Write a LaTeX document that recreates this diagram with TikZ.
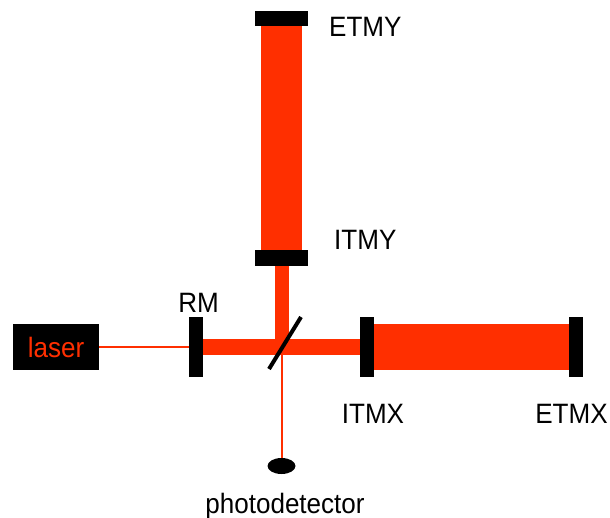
\documentclass[tikz,border=0pt]{standalone}
\usepackage{fontspec}
\usetikzlibrary{shapes.geometric}
\setmainfont[FakeStretch=0.93]{Liberation Sans}
\definecolor{beamred}{HTML}{FF2F00}
\def\labelsize{\fontsize{28}{28}\selectfont}
\tikzset{
  mirror/.style={fill=black, inner sep=0pt, minimum width=#1},
  beam/.style={beamred, line width=#1},
  lab/.style={black, inner sep=0pt, font=\labelsize}
}

\begin{document}
\begin{tikzpicture}[x=1pt, y=-1pt]
  \useasboundingbox (0,0) rectangle (610,518);

  % mirrors
  \node [mirror=53pt, minimum height=15pt] (etmy) at (281.5, 18.5){};
  \node [mirror=53pt, minimum height=16pt] (itmy) at (281.5, 258){};
  \node [mirror=14pt, minimum height=60pt] (rm) at (196, 347){};
  \node [mirror=14pt, minimum height=60pt] (itmx) at (367, 347){};
  \node [mirror=14pt, minimum height=60pt] (etmx) at (576, 347){};
  \node [fill=black, inner sep=0pt, minimum width=86pt, minimum height=46pt, text=beamred, font=\labelsize] (laser) at (56, 347){laser};
  \node [fill=black, ellipse, inner sep=0pt, minimum width=28pt, minimum height=16pt] (pd) at (281.5, 466){};
  \coordinate (bs) at (281.5, 347);
  \coordinate (bsa) at (301, 317);
  \coordinate (bsb) at (269, 369);

  % arm cavities
  \draw [beam=41pt] (itmy)--(etmy);
  \draw [beam=46pt] (itmx)--(etmx);

  % beams
  \draw [beam=14pt] (itmy)--(bs);
  \draw [beam=16pt] (rm)--(itmx);
  \draw [beam=2pt] (laser)--(rm);
  \draw [beam=2pt] (bs)--(pd);

  % beamsplitter
  \draw [black, line width=4pt] (bsa)--(bsb);

  \node [lab, anchor=base west] (etmylabel) at (329, 37){ETMY};
  \node [lab, anchor=base west] (itmylabel) at (334, 250){ITMY};
  \node [lab, anchor=base] (rmlabel) at (198.5, 313){RM};
  \node [lab, anchor=base] (itmxlabel) at (373, 423){ITMX};
  \node [lab, anchor=base] (etmxlabel) at (571.5, 423){ETMX};
  \node [lab, anchor=base] (pdlabel) at (285, 513){photodetector};

\end{tikzpicture}
\end{document}
